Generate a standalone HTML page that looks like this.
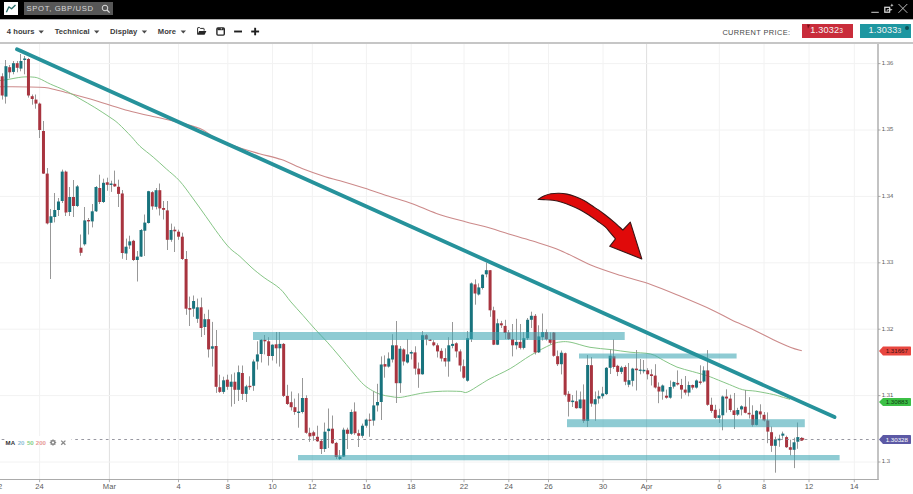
<!DOCTYPE html>
<html><head><meta charset="utf-8">
<style>
html,body{margin:0;padding:0;}
body{width:913px;height:494px;overflow:hidden;background:#fff;position:relative;font-family:"Liberation Sans",Arial,sans-serif;}
#hdr{position:absolute;left:0;top:0;width:913px;height:19px;background:#000;border-bottom:1px solid #b2b2b2;}
#logo{position:absolute;left:4px;top:2px;width:14px;height:13px;background:#fff;}
#search{position:absolute;left:24px;top:2px;width:88.5px;height:13px;background:#575757;color:#d8d8d8;font-size:7.7px;line-height:13px;letter-spacing:0.62px;}
#search span{position:absolute;left:2.6px;top:0.2px;}
#tb{position:absolute;left:0;top:20px;width:913px;height:22px;background:#fff;border-bottom:2px solid #c6c6c6;}
.mi{position:absolute;top:7.3px;font-size:7.6px;font-weight:bold;color:#3c3c3c;letter-spacing:0.05px;}
.car{position:absolute;top:11.4px;width:0;height:0;border-left:2.8px solid transparent;border-right:2.8px solid transparent;border-top:3px solid #444;}
#cp{position:absolute;left:722.4px;top:7.6px;font-size:7.4px;color:#474747;letter-spacing:0.38px;}
.pbox{position:absolute;top:4px;height:14px;width:51px;color:#f4f4f4;font-size:9.2px;line-height:14px;letter-spacing:0.15px;}
.pbox span{position:absolute;top:-1px;}
.pbox small{font-size:6.6px;}
svg{position:absolute;left:0;top:0;}
.pl{font-size:5.9px;fill:#555;text-rendering:geometricPrecision;font-family:"Liberation Sans",Arial,sans-serif;}
.dl{font-size:7.6px;fill:#5a5a5a;font-family:"Liberation Sans",Arial,sans-serif;}
.lg{font-size:6.1px;font-weight:bold;font-family:"Liberation Sans",Arial,sans-serif;}
.tg{font-size:6.2px;font-family:"Liberation Sans",Arial,sans-serif;}
#leg{position:absolute;left:3px;top:437.5px;height:9px;width:66px;padding:0 0 0 2.6px;background:#fff;font-size:6.1px;line-height:9px;color:#333;white-space:nowrap;}
</style></head><body>
<svg width="913" height="494" viewBox="0 0 913 494">
<line x1="39.6" y1="44" x2="39.6" y2="479" stroke="#f2f2f2" stroke-width="1"/>
<line x1="109.4" y1="44" x2="109.4" y2="479" stroke="#dfdfdf" stroke-width="1"/>
<line x1="178.5" y1="44" x2="178.5" y2="479" stroke="#f2f2f2" stroke-width="1"/>
<line x1="227.8" y1="44" x2="227.8" y2="479" stroke="#f2f2f2" stroke-width="1"/>
<line x1="272.5" y1="44" x2="272.5" y2="479" stroke="#f2f2f2" stroke-width="1"/>
<line x1="312.3" y1="44" x2="312.3" y2="479" stroke="#f2f2f2" stroke-width="1"/>
<line x1="366.4" y1="44" x2="366.4" y2="479" stroke="#f2f2f2" stroke-width="1"/>
<line x1="411.2" y1="44" x2="411.2" y2="479" stroke="#f2f2f2" stroke-width="1"/>
<line x1="464" y1="44" x2="464" y2="479" stroke="#f2f2f2" stroke-width="1"/>
<line x1="508.8" y1="44" x2="508.8" y2="479" stroke="#f2f2f2" stroke-width="1"/>
<line x1="548.5" y1="44" x2="548.5" y2="479" stroke="#f2f2f2" stroke-width="1"/>
<line x1="603" y1="44" x2="603" y2="479" stroke="#f2f2f2" stroke-width="1"/>
<line x1="646.6" y1="44" x2="646.6" y2="479" stroke="#dfdfdf" stroke-width="1"/>
<line x1="719.3" y1="44" x2="719.3" y2="479" stroke="#f2f2f2" stroke-width="1"/>
<line x1="764" y1="44" x2="764" y2="479" stroke="#f2f2f2" stroke-width="1"/>
<line x1="809" y1="44" x2="809" y2="479" stroke="#f2f2f2" stroke-width="1"/>
<line x1="854.3" y1="44" x2="854.3" y2="479" stroke="#f2f2f2" stroke-width="1"/>
<line x1="0" y1="63.6" x2="877" y2="63.6" stroke="#f2f2f2" stroke-width="1"/>
<line x1="0" y1="130" x2="877" y2="130" stroke="#f2f2f2" stroke-width="1"/>
<line x1="0" y1="196.4" x2="877" y2="196.4" stroke="#f2f2f2" stroke-width="1"/>
<line x1="0" y1="262.8" x2="877" y2="262.8" stroke="#f2f2f2" stroke-width="1"/>
<line x1="0" y1="329.2" x2="877" y2="329.2" stroke="#f2f2f2" stroke-width="1"/>
<line x1="0" y1="395.6" x2="877" y2="395.6" stroke="#f2f2f2" stroke-width="1"/>
<line x1="0" y1="462" x2="877" y2="462" stroke="#f2f2f2" stroke-width="1"/>
<path d="M0,86.7 C1.1,86.7 0.03,86.62 6.6,86.7 C13.17,86.78 32.1,86.9 39.4,87.2 C46.7,87.5 46.02,87.63 50.4,88.5 C54.78,89.37 59.5,90.77 65.7,92.4 C71.9,94.03 80.3,96.22 87.6,98.3 C94.9,100.38 102.2,102.7 109.5,104.9 C116.8,107.1 124.65,109.68 131.4,111.5 C138.15,113.32 143.25,114.25 150,115.8 C156.75,117.35 163.57,118.68 171.9,120.8 C180.23,122.92 192.7,125.58 200,128.5 C207.3,131.42 209.43,135.2 215.7,138.3 C221.97,141.4 230.3,144.53 237.6,147.1 C244.9,149.67 252.2,151.62 259.5,153.7 C266.8,155.78 274.1,157.05 281.4,159.6 C288.7,162.15 296,166.15 303.3,169 C310.6,171.85 319.08,174.73 325.2,176.7 C331.32,178.67 333.52,178.9 340,180.8 C346.48,182.7 356.07,185.57 364.1,188.1 C372.13,190.63 380.17,193.4 388.2,196 C396.23,198.6 404.27,200.8 412.3,203.7 C420.33,206.6 427.57,210.38 436.4,213.4 C445.23,216.42 457.27,219.6 465.3,221.8 C473.33,224 477.37,224.58 484.6,226.6 C491.83,228.62 500.67,231.48 508.7,233.9 C516.73,236.32 524.2,238.35 532.8,241.1 C541.4,243.85 550.65,246.42 560.3,250.4 C569.95,254.38 580.58,260.8 590.7,265 C600.82,269.2 610.88,272.32 621,275.6 C631.12,278.88 641.28,281.17 651.4,284.7 C661.52,288.23 671.58,292.6 681.7,296.8 C691.82,301 703.77,306.03 712.1,309.9 C720.43,313.77 725.15,316.85 731.7,320 C738.25,323.15 744.47,325.52 751.4,328.8 C758.33,332.08 766.72,336.6 773.3,339.7 C779.88,342.8 786.15,345.57 790.9,347.4 C795.65,349.23 799.98,350.15 801.8,350.7" fill="none" stroke="#cc8a8a" stroke-width="1.05"/>
<path d="M0,80.5 C1.1,80.37 2.95,80.27 6.6,79.7 C10.25,79.13 17.52,77.53 21.9,77.1 C26.28,76.67 29.98,76.85 32.9,77.1 C35.82,77.35 36.48,77.43 39.4,78.6 C42.32,79.77 46.02,82.08 50.4,84.1 C54.78,86.12 60.6,88.15 65.7,90.7 C70.8,93.25 76.25,96.67 81,99.4 C85.75,102.13 89.45,104.17 94.2,107.1 C98.95,110.03 105.48,114.27 109.5,117 C113.52,119.73 114.65,120.22 118.3,123.5 C121.95,126.78 127.78,132.9 131.4,136.7 C135.02,140.5 136.37,142.9 140,146.3 C143.63,149.7 148.82,153.33 153.2,157.1 C157.58,160.87 161.92,164.95 166.3,168.9 C170.68,172.85 175.12,175.97 179.5,180.8 C183.88,185.63 188.22,191.98 192.6,197.9 C196.98,203.82 201.42,210.17 205.8,216.3 C210.18,222.43 214.95,229.43 218.9,234.7 C222.85,239.97 225.98,244.27 229.5,247.9 C233.02,251.53 236.25,253.17 240,256.5 C243.75,259.83 247.98,264.38 252,267.9 C256.02,271.42 259.45,274.15 264.1,277.6 C268.75,281.05 275.43,284.55 279.9,288.6 C284.37,292.65 287.05,297.43 290.9,301.9 C294.75,306.37 298.97,310.85 303,315.4 C307.03,319.95 311.05,324.73 315.1,329.2 C319.15,333.67 323.57,338.07 327.3,342.2 C331.03,346.33 334.33,350.28 337.5,354 C340.67,357.72 343.38,361 346.3,364.5 C349.22,368 352.08,371.63 355,375 C357.92,378.37 360.87,382.07 363.8,384.7 C366.73,387.33 369.68,389.13 372.6,390.8 C375.52,392.47 378.38,393.77 381.3,394.7 C384.22,395.63 387.17,395.93 390.1,396.4 C393.03,396.87 395.98,397.55 398.9,397.5 C401.82,397.45 403.22,396.92 407.6,396.1 C411.98,395.28 419.35,393.42 425.2,392.6 C431.05,391.78 436.87,391.4 442.7,391.2 C448.53,391 456.12,391.23 460.2,391.4 C464.28,391.57 463.9,393.32 467.2,392.2 C470.5,391.08 476.2,386.95 480,384.7 C483.8,382.45 484.97,381.38 490,378.7 C495.03,376.02 503.45,372.48 510.2,368.6 C516.95,364.72 523.75,359.38 530.5,355.4 C537.25,351.42 545.63,346.95 550.7,344.7 C555.77,342.45 557.52,342.3 560.9,341.9 C564.28,341.5 566.15,341.4 571,342.3 C575.85,343.2 583.33,346.08 590,347.3 C596.67,348.52 604.33,348.78 611,349.6 C617.67,350.42 623.38,351.47 630,352.2 C636.62,352.93 645.07,352.62 650.7,354 C656.33,355.38 659.42,358.32 663.8,360.5 C668.18,362.68 672.25,365.27 677,367.1 C681.75,368.93 687.2,370.03 692.3,371.5 C697.4,372.97 703.22,374.45 707.6,375.9 C711.98,377.35 714.95,378.75 718.6,380.2 C722.25,381.65 725.48,383.02 729.5,384.6 C733.52,386.18 738.32,388.6 742.7,389.7 C747.08,390.8 750.7,390.4 755.8,391.2 C760.9,392 769.1,393.58 773.3,394.5 C777.5,395.42 778.22,395.88 781,396.7 C783.78,397.52 788.5,398.95 790,399.4" fill="none" stroke="#7fc27f" stroke-width="0.95"/>
<line x1="2.5" y1="73.3" x2="2.5" y2="99.6" stroke="#8c8c8c" stroke-width="0.9"/>
<rect x="0.69" y="76.3" width="3.0" height="19.2" fill="#a8343f"/>
<line x1="5.5" y1="60" x2="5.5" y2="103.6" stroke="#8c8c8c" stroke-width="0.9"/>
<rect x="4.44" y="66.2" width="3.0" height="30.4" fill="#18737d"/>
<line x1="9.5" y1="65" x2="9.5" y2="78.3" stroke="#8c8c8c" stroke-width="0.9"/>
<rect x="8.19" y="67.2" width="3.0" height="5.1" fill="#a8343f"/>
<line x1="13.5" y1="61" x2="13.5" y2="74.3" stroke="#8c8c8c" stroke-width="0.9"/>
<rect x="11.95" y="63.2" width="3.0" height="8.7" fill="#18737d"/>
<line x1="17.5" y1="61" x2="17.5" y2="72.3" stroke="#8c8c8c" stroke-width="0.9"/>
<rect x="15.7" y="63.2" width="3.0" height="4.6" fill="#a8343f"/>
<line x1="20.5" y1="54" x2="20.5" y2="71.3" stroke="#8c8c8c" stroke-width="0.9"/>
<rect x="19.45" y="61" width="3.0" height="7.6" fill="#18737d"/>
<line x1="24.5" y1="56" x2="24.5" y2="74.3" stroke="#8c8c8c" stroke-width="0.9"/>
<rect x="23.2" y="58.5" width="3.0" height="1.5" fill="#18737d"/>
<line x1="28.5" y1="58" x2="28.5" y2="97.6" stroke="#8c8c8c" stroke-width="0.9"/>
<rect x="26.96" y="59" width="3.0" height="36.5" fill="#a8343f"/>
<line x1="32.5" y1="94.5" x2="32.5" y2="104.7" stroke="#8c8c8c" stroke-width="0.9"/>
<rect x="30.71" y="96.2" width="3.0" height="2.8" fill="#a8343f"/>
<line x1="35.5" y1="94.5" x2="35.5" y2="108.7" stroke="#8c8c8c" stroke-width="0.9"/>
<rect x="34.46" y="99.6" width="3.0" height="4" fill="#a8343f"/>
<line x1="39.5" y1="102.6" x2="39.5" y2="138" stroke="#8c8c8c" stroke-width="0.9"/>
<rect x="38.22" y="103.6" width="3.0" height="26.4" fill="#a8343f"/>
<line x1="43.5" y1="121" x2="43.5" y2="174" stroke="#8c8c8c" stroke-width="0.9"/>
<rect x="41.97" y="131" width="3.0" height="42.6" fill="#a8343f"/>
<line x1="47.5" y1="168" x2="47.5" y2="224.4" stroke="#8c8c8c" stroke-width="0.9"/>
<rect x="45.72" y="173.6" width="3.0" height="49.8" fill="#a8343f"/>
<line x1="50.5" y1="209" x2="50.5" y2="279" stroke="#8c8c8c" stroke-width="0.9"/>
<rect x="49.48" y="216.3" width="3.0" height="6.5" fill="#18737d"/>
<line x1="54.5" y1="193" x2="54.5" y2="222.4" stroke="#8c8c8c" stroke-width="0.9"/>
<rect x="53.23" y="210" width="3.0" height="7" fill="#18737d"/>
<line x1="58.5" y1="198" x2="58.5" y2="216" stroke="#8c8c8c" stroke-width="0.9"/>
<rect x="56.98" y="201.5" width="3.0" height="8.5" fill="#18737d"/>
<line x1="62.5" y1="169.6" x2="62.5" y2="203" stroke="#8c8c8c" stroke-width="0.9"/>
<rect x="60.73" y="171.6" width="3.0" height="29.4" fill="#18737d"/>
<line x1="65.5" y1="170.6" x2="65.5" y2="216" stroke="#8c8c8c" stroke-width="0.9"/>
<rect x="64.49" y="171.6" width="3.0" height="40.9" fill="#a8343f"/>
<line x1="69.5" y1="187" x2="69.5" y2="216" stroke="#8c8c8c" stroke-width="0.9"/>
<rect x="68.24" y="197" width="3.0" height="15" fill="#18737d"/>
<line x1="73.5" y1="180" x2="73.5" y2="217" stroke="#8c8c8c" stroke-width="0.9"/>
<rect x="71.99" y="197" width="3.0" height="9" fill="#a8343f"/>
<line x1="77.5" y1="185" x2="77.5" y2="207" stroke="#8c8c8c" stroke-width="0.9"/>
<rect x="75.75" y="186.4" width="3.0" height="19.6" fill="#18737d"/>
<line x1="80.5" y1="234.5" x2="80.5" y2="255.8" stroke="#8c8c8c" stroke-width="0.9"/>
<rect x="79.5" y="247.7" width="3.0" height="5.1" fill="#a8343f"/>
<line x1="84.5" y1="207" x2="84.5" y2="245.7" stroke="#8c8c8c" stroke-width="0.9"/>
<rect x="83.25" y="220.4" width="3.0" height="23.9" fill="#18737d"/>
<line x1="88.5" y1="218" x2="88.5" y2="234.5" stroke="#8c8c8c" stroke-width="0.9"/>
<rect x="87" y="220" width="3.0" height="1.4" fill="#a8343f"/>
<line x1="92.5" y1="204" x2="92.5" y2="227.4" stroke="#8c8c8c" stroke-width="0.9"/>
<rect x="90.76" y="211.3" width="3.0" height="10.1" fill="#18737d"/>
<line x1="96.5" y1="186" x2="96.5" y2="212" stroke="#8c8c8c" stroke-width="0.9"/>
<rect x="94.51" y="187" width="3.0" height="24.3" fill="#18737d"/>
<line x1="99.5" y1="174.7" x2="99.5" y2="204" stroke="#8c8c8c" stroke-width="0.9"/>
<rect x="98.26" y="188" width="3.0" height="14" fill="#a8343f"/>
<line x1="103.5" y1="178.7" x2="103.5" y2="203" stroke="#8c8c8c" stroke-width="0.9"/>
<rect x="102.02" y="182.8" width="3.0" height="19.2" fill="#18737d"/>
<line x1="107.5" y1="177.7" x2="107.5" y2="190.8" stroke="#8c8c8c" stroke-width="0.9"/>
<rect x="105.77" y="182.3" width="3.0" height="2.5" fill="#a8343f"/>
<line x1="111.5" y1="180.7" x2="111.5" y2="191.9" stroke="#8c8c8c" stroke-width="0.9"/>
<rect x="109.52" y="183.5" width="3.0" height="1.5" fill="#18737d"/>
<line x1="114.5" y1="170.6" x2="114.5" y2="186.8" stroke="#8c8c8c" stroke-width="0.9"/>
<rect x="113.28" y="183.8" width="3.0" height="2.6" fill="#a8343f"/>
<line x1="118.5" y1="179.7" x2="118.5" y2="207" stroke="#8c8c8c" stroke-width="0.9"/>
<rect x="117.03" y="186.8" width="3.0" height="7.1" fill="#a8343f"/>
<line x1="122.5" y1="190" x2="122.5" y2="258.8" stroke="#8c8c8c" stroke-width="0.9"/>
<rect x="120.78" y="193.5" width="3.0" height="59.5" fill="#a8343f"/>
<line x1="126.5" y1="238.6" x2="126.5" y2="260" stroke="#8c8c8c" stroke-width="0.9"/>
<rect x="124.53" y="246.7" width="3.0" height="6.8" fill="#18737d"/>
<line x1="129.5" y1="235.7" x2="129.5" y2="248.9" stroke="#8c8c8c" stroke-width="0.9"/>
<rect x="128.29" y="241.4" width="3.0" height="4" fill="#18737d"/>
<line x1="133.5" y1="239.8" x2="133.5" y2="261" stroke="#8c8c8c" stroke-width="0.9"/>
<rect x="132.04" y="240.8" width="3.0" height="19.2" fill="#a8343f"/>
<line x1="137.5" y1="251" x2="137.5" y2="281.5" stroke="#8c8c8c" stroke-width="0.9"/>
<rect x="135.79" y="256.6" width="3.0" height="3.4" fill="#18737d"/>
<line x1="141.5" y1="229" x2="141.5" y2="257" stroke="#8c8c8c" stroke-width="0.9"/>
<rect x="139.55" y="230" width="3.0" height="26.6" fill="#18737d"/>
<line x1="144.5" y1="214.5" x2="144.5" y2="256" stroke="#8c8c8c" stroke-width="0.9"/>
<rect x="143.3" y="222.6" width="3.0" height="8.1" fill="#18737d"/>
<line x1="148.5" y1="190.8" x2="148.5" y2="223.6" stroke="#8c8c8c" stroke-width="0.9"/>
<rect x="147.05" y="191.2" width="3.0" height="31.8" fill="#18737d"/>
<line x1="152.5" y1="191.2" x2="152.5" y2="209.8" stroke="#8c8c8c" stroke-width="0.9"/>
<rect x="150.81" y="192.2" width="3.0" height="14.2" fill="#a8343f"/>
<line x1="156.5" y1="188" x2="156.5" y2="209.4" stroke="#8c8c8c" stroke-width="0.9"/>
<rect x="154.56" y="190.2" width="3.0" height="16.6" fill="#18737d"/>
<line x1="159.5" y1="183.5" x2="159.5" y2="215.5" stroke="#8c8c8c" stroke-width="0.9"/>
<rect x="158.31" y="190.2" width="3.0" height="18.2" fill="#a8343f"/>
<line x1="163.5" y1="201" x2="163.5" y2="219.5" stroke="#8c8c8c" stroke-width="0.9"/>
<rect x="162.07" y="208" width="3.0" height="1.8" fill="#a8343f"/>
<line x1="167.5" y1="201" x2="167.5" y2="250" stroke="#8c8c8c" stroke-width="0.9"/>
<rect x="165.82" y="210.4" width="3.0" height="29.4" fill="#a8343f"/>
<line x1="171.5" y1="223.6" x2="171.5" y2="241.8" stroke="#8c8c8c" stroke-width="0.9"/>
<rect x="169.57" y="230" width="3.0" height="9.8" fill="#18737d"/>
<line x1="174.5" y1="226.6" x2="174.5" y2="252" stroke="#8c8c8c" stroke-width="0.9"/>
<rect x="173.32" y="229.7" width="3.0" height="1.6" fill="#a8343f"/>
<line x1="178.5" y1="229.7" x2="178.5" y2="239.8" stroke="#8c8c8c" stroke-width="0.9"/>
<rect x="177.08" y="231.7" width="3.0" height="5" fill="#a8343f"/>
<line x1="182.5" y1="232.7" x2="182.5" y2="260" stroke="#8c8c8c" stroke-width="0.9"/>
<rect x="180.83" y="236.7" width="3.0" height="22.3" fill="#a8343f"/>
<line x1="186.5" y1="251" x2="186.5" y2="314.8" stroke="#8c8c8c" stroke-width="0.9"/>
<rect x="184.58" y="259" width="3.0" height="49.7" fill="#a8343f"/>
<line x1="189.5" y1="296.6" x2="189.5" y2="326" stroke="#8c8c8c" stroke-width="0.9"/>
<rect x="188.34" y="308" width="3.0" height="1.7" fill="#a8343f"/>
<line x1="193.5" y1="295.5" x2="193.5" y2="316.8" stroke="#8c8c8c" stroke-width="0.9"/>
<rect x="192.09" y="301" width="3.0" height="7.7" fill="#18737d"/>
<line x1="197.5" y1="298.6" x2="197.5" y2="322.9" stroke="#8c8c8c" stroke-width="0.9"/>
<rect x="195.84" y="307.3" width="3.0" height="11.5" fill="#18737d"/>
<line x1="201.5" y1="297.6" x2="201.5" y2="337" stroke="#8c8c8c" stroke-width="0.9"/>
<rect x="199.59" y="307.3" width="3.0" height="20.7" fill="#a8343f"/>
<line x1="204.5" y1="313.8" x2="204.5" y2="335" stroke="#8c8c8c" stroke-width="0.9"/>
<rect x="203.35" y="319.2" width="3.0" height="7.8" fill="#18737d"/>
<line x1="208.5" y1="309.7" x2="208.5" y2="357.5" stroke="#8c8c8c" stroke-width="0.9"/>
<rect x="207.1" y="319.2" width="3.0" height="30.2" fill="#a8343f"/>
<line x1="212.5" y1="321.9" x2="212.5" y2="366.6" stroke="#8c8c8c" stroke-width="0.9"/>
<rect x="210.85" y="346.3" width="3.0" height="2.4" fill="#18737d"/>
<line x1="216.5" y1="330" x2="216.5" y2="392.9" stroke="#8c8c8c" stroke-width="0.9"/>
<rect x="214.61" y="346" width="3.0" height="40.8" fill="#a8343f"/>
<line x1="219.5" y1="374.7" x2="219.5" y2="392.9" stroke="#8c8c8c" stroke-width="0.9"/>
<rect x="218.36" y="387.2" width="3.0" height="4.7" fill="#a8343f"/>
<line x1="223.5" y1="376.7" x2="223.5" y2="393.9" stroke="#8c8c8c" stroke-width="0.9"/>
<rect x="222.11" y="380.3" width="3.0" height="11.6" fill="#18737d"/>
<line x1="227.5" y1="374.7" x2="227.5" y2="389.8" stroke="#8c8c8c" stroke-width="0.9"/>
<rect x="225.87" y="379.7" width="3.0" height="7.1" fill="#a8343f"/>
<line x1="231.5" y1="374.3" x2="231.5" y2="406.6" stroke="#8c8c8c" stroke-width="0.9"/>
<rect x="229.62" y="381.7" width="3.0" height="5.1" fill="#18737d"/>
<line x1="234.5" y1="372.6" x2="234.5" y2="404" stroke="#8c8c8c" stroke-width="0.9"/>
<rect x="233.37" y="381.7" width="3.0" height="8.1" fill="#a8343f"/>
<line x1="238.5" y1="365.5" x2="238.5" y2="401" stroke="#8c8c8c" stroke-width="0.9"/>
<rect x="237.13" y="372.2" width="3.0" height="17.6" fill="#18737d"/>
<line x1="242.5" y1="365.5" x2="242.5" y2="400" stroke="#8c8c8c" stroke-width="0.9"/>
<rect x="240.88" y="373" width="3.0" height="20.9" fill="#a8343f"/>
<line x1="246.5" y1="384.8" x2="246.5" y2="402" stroke="#8c8c8c" stroke-width="0.9"/>
<rect x="244.63" y="386.4" width="3.0" height="7.5" fill="#18737d"/>
<line x1="249.5" y1="376.3" x2="249.5" y2="389.8" stroke="#8c8c8c" stroke-width="0.9"/>
<rect x="248.38" y="385.8" width="3.0" height="1.4" fill="#a8343f"/>
<line x1="253.5" y1="359.5" x2="253.5" y2="390.8" stroke="#8c8c8c" stroke-width="0.9"/>
<rect x="252.14" y="361.5" width="3.0" height="24.3" fill="#18737d"/>
<line x1="257.5" y1="341.3" x2="257.5" y2="369.6" stroke="#8c8c8c" stroke-width="0.9"/>
<rect x="255.89" y="354.4" width="3.0" height="7.1" fill="#18737d"/>
<line x1="261.5" y1="339.2" x2="261.5" y2="362.5" stroke="#8c8c8c" stroke-width="0.9"/>
<rect x="259.64" y="339.8" width="3.0" height="14.2" fill="#18737d"/>
<line x1="264.5" y1="335" x2="264.5" y2="354.4" stroke="#8c8c8c" stroke-width="0.9"/>
<rect x="263.4" y="339.8" width="3.0" height="1.5" fill="#a8343f"/>
<line x1="268.5" y1="337.2" x2="268.5" y2="365.5" stroke="#8c8c8c" stroke-width="0.9"/>
<rect x="267.15" y="341.3" width="3.0" height="14.7" fill="#a8343f"/>
<line x1="272.5" y1="344.3" x2="272.5" y2="360.5" stroke="#8c8c8c" stroke-width="0.9"/>
<rect x="270.9" y="344.7" width="3.0" height="11.3" fill="#18737d"/>
<line x1="276.5" y1="332" x2="276.5" y2="363.5" stroke="#8c8c8c" stroke-width="0.9"/>
<rect x="274.65" y="344.3" width="3.0" height="4" fill="#a8343f"/>
<line x1="279.5" y1="332" x2="279.5" y2="366.6" stroke="#8c8c8c" stroke-width="0.9"/>
<rect x="278.41" y="343.9" width="3.0" height="4.4" fill="#18737d"/>
<line x1="283.5" y1="343" x2="283.5" y2="397" stroke="#8c8c8c" stroke-width="0.9"/>
<rect x="282.16" y="343.9" width="3.0" height="52" fill="#a8343f"/>
<line x1="287.5" y1="384.8" x2="287.5" y2="405" stroke="#8c8c8c" stroke-width="0.9"/>
<rect x="285.91" y="395.9" width="3.0" height="8.1" fill="#a8343f"/>
<line x1="291.5" y1="391.5" x2="291.5" y2="410.5" stroke="#8c8c8c" stroke-width="0.9"/>
<rect x="289.67" y="402.2" width="3.0" height="5" fill="#a8343f"/>
<line x1="294.5" y1="398.6" x2="294.5" y2="414.8" stroke="#8c8c8c" stroke-width="0.9"/>
<rect x="293.42" y="407.2" width="3.0" height="4.8" fill="#a8343f"/>
<line x1="298.5" y1="393.3" x2="298.5" y2="427.7" stroke="#8c8c8c" stroke-width="0.9"/>
<rect x="297.17" y="411.5" width="3.0" height="1.5" fill="#18737d"/>
<line x1="302.5" y1="378" x2="302.5" y2="413.5" stroke="#8c8c8c" stroke-width="0.9"/>
<rect x="300.93" y="398" width="3.0" height="14" fill="#18737d"/>
<line x1="306.5" y1="395.3" x2="306.5" y2="433.8" stroke="#8c8c8c" stroke-width="0.9"/>
<rect x="304.68" y="398" width="3.0" height="34.8" fill="#a8343f"/>
<line x1="309.5" y1="427.7" x2="309.5" y2="441.9" stroke="#8c8c8c" stroke-width="0.9"/>
<rect x="308.43" y="432.8" width="3.0" height="3.6" fill="#a8343f"/>
<line x1="313.5" y1="430.7" x2="313.5" y2="440.8" stroke="#8c8c8c" stroke-width="0.9"/>
<rect x="312.19" y="432.3" width="3.0" height="3.5" fill="#a8343f"/>
<line x1="317.5" y1="425.7" x2="317.5" y2="441.9" stroke="#8c8c8c" stroke-width="0.9"/>
<rect x="315.94" y="436.8" width="3.0" height="4.5" fill="#a8343f"/>
<line x1="321.5" y1="439.8" x2="321.5" y2="454" stroke="#8c8c8c" stroke-width="0.9"/>
<rect x="319.69" y="440.9" width="3.0" height="8.1" fill="#a8343f"/>
<line x1="324.5" y1="422.6" x2="324.5" y2="452" stroke="#8c8c8c" stroke-width="0.9"/>
<rect x="323.44" y="431.7" width="3.0" height="17.3" fill="#18737d"/>
<line x1="328.5" y1="408.5" x2="328.5" y2="448" stroke="#8c8c8c" stroke-width="0.9"/>
<rect x="327.2" y="428.7" width="3.0" height="2.4" fill="#18737d"/>
<line x1="332.5" y1="415.5" x2="332.5" y2="443.9" stroke="#8c8c8c" stroke-width="0.9"/>
<rect x="330.95" y="428.7" width="3.0" height="14.6" fill="#a8343f"/>
<line x1="336.5" y1="441.9" x2="336.5" y2="459" stroke="#8c8c8c" stroke-width="0.9"/>
<rect x="334.7" y="442.9" width="3.0" height="14.1" fill="#a8343f"/>
<line x1="339.5" y1="450" x2="339.5" y2="460" stroke="#8c8c8c" stroke-width="0.9"/>
<rect x="338.46" y="456.6" width="3.0" height="2.4" fill="#18737d"/>
<line x1="343.5" y1="427.7" x2="343.5" y2="457" stroke="#8c8c8c" stroke-width="0.9"/>
<rect x="342.21" y="429.7" width="3.0" height="26.9" fill="#18737d"/>
<line x1="347.5" y1="427.7" x2="347.5" y2="449" stroke="#8c8c8c" stroke-width="0.9"/>
<rect x="345.96" y="429.7" width="3.0" height="4.1" fill="#a8343f"/>
<line x1="351.5" y1="409.5" x2="351.5" y2="434.8" stroke="#8c8c8c" stroke-width="0.9"/>
<rect x="349.71" y="412" width="3.0" height="21.8" fill="#18737d"/>
<line x1="354.5" y1="402.4" x2="354.5" y2="434.8" stroke="#8c8c8c" stroke-width="0.9"/>
<rect x="353.47" y="411.5" width="3.0" height="21.7" fill="#a8343f"/>
<line x1="358.5" y1="429.7" x2="358.5" y2="447" stroke="#8c8c8c" stroke-width="0.9"/>
<rect x="357.22" y="433.2" width="3.0" height="2.6" fill="#a8343f"/>
<line x1="362.5" y1="423.6" x2="362.5" y2="437.8" stroke="#8c8c8c" stroke-width="0.9"/>
<rect x="360.97" y="425.7" width="3.0" height="10.1" fill="#18737d"/>
<line x1="366.5" y1="418.6" x2="366.5" y2="427.7" stroke="#8c8c8c" stroke-width="0.9"/>
<rect x="364.73" y="419.6" width="3.0" height="6.1" fill="#18737d"/>
<line x1="369.5" y1="413.5" x2="369.5" y2="436.8" stroke="#8c8c8c" stroke-width="0.9"/>
<rect x="368.48" y="419.6" width="3.0" height="1.2" fill="#a8343f"/>
<line x1="373.5" y1="391.3" x2="373.5" y2="425.7" stroke="#8c8c8c" stroke-width="0.9"/>
<rect x="372.23" y="405.4" width="3.0" height="15.2" fill="#18737d"/>
<line x1="377.5" y1="383.8" x2="377.5" y2="411.5" stroke="#8c8c8c" stroke-width="0.9"/>
<rect x="375.99" y="402" width="3.0" height="3.4" fill="#18737d"/>
<line x1="381.5" y1="356.4" x2="381.5" y2="420" stroke="#8c8c8c" stroke-width="0.9"/>
<rect x="379.74" y="364.5" width="3.0" height="37.5" fill="#18737d"/>
<line x1="384.5" y1="355.4" x2="384.5" y2="377.7" stroke="#8c8c8c" stroke-width="0.9"/>
<rect x="383.49" y="364.1" width="3.0" height="2.5" fill="#a8343f"/>
<line x1="388.5" y1="352.4" x2="388.5" y2="367.6" stroke="#8c8c8c" stroke-width="0.9"/>
<rect x="387.25" y="358.5" width="3.0" height="8.1" fill="#18737d"/>
<line x1="392.5" y1="334.2" x2="392.5" y2="362.5" stroke="#8c8c8c" stroke-width="0.9"/>
<rect x="391" y="345.3" width="3.0" height="14.2" fill="#18737d"/>
<line x1="396.5" y1="321" x2="396.5" y2="403" stroke="#8c8c8c" stroke-width="0.9"/>
<rect x="394.75" y="345.3" width="3.0" height="37.9" fill="#a8343f"/>
<line x1="400.5" y1="346" x2="400.5" y2="392.9" stroke="#8c8c8c" stroke-width="0.9"/>
<rect x="398.5" y="348.7" width="3.0" height="34.5" fill="#18737d"/>
<line x1="403.5" y1="348.3" x2="403.5" y2="365.5" stroke="#8c8c8c" stroke-width="0.9"/>
<rect x="402.26" y="349.4" width="3.0" height="12.1" fill="#a8343f"/>
<line x1="407.5" y1="339.2" x2="407.5" y2="363.5" stroke="#8c8c8c" stroke-width="0.9"/>
<rect x="406.01" y="354.4" width="3.0" height="8.1" fill="#18737d"/>
<line x1="411.5" y1="350.4" x2="411.5" y2="359.5" stroke="#8c8c8c" stroke-width="0.9"/>
<rect x="409.76" y="352" width="3.0" height="1.6" fill="#18737d"/>
<line x1="415.5" y1="346.3" x2="415.5" y2="374.7" stroke="#8c8c8c" stroke-width="0.9"/>
<rect x="413.52" y="352.4" width="3.0" height="16.2" fill="#a8343f"/>
<line x1="418.5" y1="362.5" x2="418.5" y2="387.8" stroke="#8c8c8c" stroke-width="0.9"/>
<rect x="417.27" y="368.6" width="3.0" height="5.7" fill="#a8343f"/>
<line x1="422.5" y1="331.1" x2="422.5" y2="374.7" stroke="#8c8c8c" stroke-width="0.9"/>
<rect x="421.02" y="335.2" width="3.0" height="39.1" fill="#18737d"/>
<line x1="426.5" y1="334.2" x2="426.5" y2="345.3" stroke="#8c8c8c" stroke-width="0.9"/>
<rect x="424.77" y="335.2" width="3.0" height="4" fill="#a8343f"/>
<line x1="430.5" y1="339" x2="430.5" y2="341" stroke="#8c8c8c" stroke-width="0.9"/>
<rect x="428.53" y="339.6" width="3.0" height="1.2" fill="#a8343f"/>
<line x1="433.5" y1="340.2" x2="433.5" y2="346.3" stroke="#8c8c8c" stroke-width="0.9"/>
<rect x="432.28" y="342.3" width="3.0" height="3" fill="#a8343f"/>
<line x1="437.5" y1="343.3" x2="437.5" y2="357.5" stroke="#8c8c8c" stroke-width="0.9"/>
<rect x="436.03" y="345.3" width="3.0" height="6.1" fill="#a8343f"/>
<line x1="441.5" y1="348.3" x2="441.5" y2="361.5" stroke="#8c8c8c" stroke-width="0.9"/>
<rect x="439.79" y="350.8" width="3.0" height="7.7" fill="#a8343f"/>
<line x1="445.5" y1="348.3" x2="445.5" y2="366.6" stroke="#8c8c8c" stroke-width="0.9"/>
<rect x="443.54" y="358" width="3.0" height="3.5" fill="#a8343f"/>
<line x1="448.5" y1="337.2" x2="448.5" y2="376.7" stroke="#8c8c8c" stroke-width="0.9"/>
<rect x="447.29" y="345.3" width="3.0" height="16.2" fill="#18737d"/>
<line x1="452.5" y1="322" x2="452.5" y2="348.3" stroke="#8c8c8c" stroke-width="0.9"/>
<rect x="451.05" y="343.9" width="3.0" height="2" fill="#18737d"/>
<line x1="456.5" y1="342.3" x2="456.5" y2="357.5" stroke="#8c8c8c" stroke-width="0.9"/>
<rect x="454.8" y="343.3" width="3.0" height="8.1" fill="#a8343f"/>
<line x1="460.5" y1="349.4" x2="460.5" y2="371.6" stroke="#8c8c8c" stroke-width="0.9"/>
<rect x="458.55" y="351.4" width="3.0" height="14.1" fill="#a8343f"/>
<line x1="463.5" y1="359.5" x2="463.5" y2="378.7" stroke="#8c8c8c" stroke-width="0.9"/>
<rect x="462.31" y="366.2" width="3.0" height="11.5" fill="#a8343f"/>
<line x1="467.5" y1="331" x2="467.5" y2="381.7" stroke="#8c8c8c" stroke-width="0.9"/>
<rect x="466.06" y="338.2" width="3.0" height="42.5" fill="#18737d"/>
<line x1="471.5" y1="282.4" x2="471.5" y2="342" stroke="#8c8c8c" stroke-width="0.9"/>
<rect x="469.81" y="283.4" width="3.0" height="55.6" fill="#18737d"/>
<line x1="475.5" y1="279.4" x2="475.5" y2="304.7" stroke="#8c8c8c" stroke-width="0.9"/>
<rect x="473.56" y="284.4" width="3.0" height="9.1" fill="#a8343f"/>
<line x1="478.5" y1="283.4" x2="478.5" y2="295.5" stroke="#8c8c8c" stroke-width="0.9"/>
<rect x="477.32" y="287.4" width="3.0" height="7.1" fill="#18737d"/>
<line x1="482.5" y1="274.3" x2="482.5" y2="289.5" stroke="#8c8c8c" stroke-width="0.9"/>
<rect x="481.07" y="274.7" width="3.0" height="13.3" fill="#18737d"/>
<line x1="486.5" y1="262.6" x2="486.5" y2="277.3" stroke="#8c8c8c" stroke-width="0.9"/>
<rect x="484.82" y="270.2" width="3.0" height="4.1" fill="#18737d"/>
<line x1="490.5" y1="270.2" x2="490.5" y2="316.8" stroke="#8c8c8c" stroke-width="0.9"/>
<rect x="488.58" y="270.2" width="3.0" height="40.1" fill="#a8343f"/>
<line x1="493.5" y1="306.7" x2="493.5" y2="345.1" stroke="#8c8c8c" stroke-width="0.9"/>
<rect x="492.33" y="310.3" width="3.0" height="34.4" fill="#a8343f"/>
<line x1="497.5" y1="318.8" x2="497.5" y2="345.1" stroke="#8c8c8c" stroke-width="0.9"/>
<rect x="496.08" y="323.3" width="3.0" height="21.4" fill="#18737d"/>
<line x1="501.5" y1="320.9" x2="501.5" y2="328" stroke="#8c8c8c" stroke-width="0.9"/>
<rect x="499.83" y="323.3" width="3.0" height="2" fill="#a8343f"/>
<line x1="505.5" y1="319.8" x2="505.5" y2="339" stroke="#8c8c8c" stroke-width="0.9"/>
<rect x="503.59" y="325.9" width="3.0" height="7.1" fill="#a8343f"/>
<line x1="508.5" y1="330" x2="508.5" y2="340" stroke="#8c8c8c" stroke-width="0.9"/>
<rect x="507.34" y="332.5" width="3.0" height="6.5" fill="#a8343f"/>
<line x1="512.5" y1="324" x2="512.5" y2="356.4" stroke="#8c8c8c" stroke-width="0.9"/>
<rect x="511.09" y="339.2" width="3.0" height="6.1" fill="#a8343f"/>
<line x1="516.5" y1="318.8" x2="516.5" y2="349.4" stroke="#8c8c8c" stroke-width="0.9"/>
<rect x="514.85" y="341.9" width="3.0" height="3.4" fill="#18737d"/>
<line x1="520.5" y1="324" x2="520.5" y2="349.4" stroke="#8c8c8c" stroke-width="0.9"/>
<rect x="518.6" y="341.9" width="3.0" height="6" fill="#a8343f"/>
<line x1="523.5" y1="332.1" x2="523.5" y2="349.4" stroke="#8c8c8c" stroke-width="0.9"/>
<rect x="522.35" y="338.2" width="3.0" height="9.7" fill="#18737d"/>
<line x1="527.5" y1="318" x2="527.5" y2="340" stroke="#8c8c8c" stroke-width="0.9"/>
<rect x="526.11" y="319.8" width="3.0" height="18.4" fill="#18737d"/>
<line x1="531.5" y1="311.7" x2="531.5" y2="328" stroke="#8c8c8c" stroke-width="0.9"/>
<rect x="529.86" y="315.8" width="3.0" height="4" fill="#18737d"/>
<line x1="535.5" y1="314" x2="535.5" y2="354.5" stroke="#8c8c8c" stroke-width="0.9"/>
<rect x="533.61" y="315.8" width="3.0" height="36.6" fill="#a8343f"/>
<line x1="538.5" y1="325.3" x2="538.5" y2="353" stroke="#8c8c8c" stroke-width="0.9"/>
<rect x="537.37" y="336.4" width="3.0" height="16" fill="#18737d"/>
<line x1="542.5" y1="313.5" x2="542.5" y2="340.5" stroke="#8c8c8c" stroke-width="0.9"/>
<rect x="541.12" y="332.1" width="3.0" height="5.1" fill="#18737d"/>
<line x1="546.5" y1="329.4" x2="546.5" y2="340.5" stroke="#8c8c8c" stroke-width="0.9"/>
<rect x="544.87" y="332.1" width="3.0" height="7.1" fill="#a8343f"/>
<line x1="550.5" y1="332.4" x2="550.5" y2="344.5" stroke="#8c8c8c" stroke-width="0.9"/>
<rect x="548.62" y="339.2" width="3.0" height="3.6" fill="#a8343f"/>
<line x1="553.5" y1="332" x2="553.5" y2="356.7" stroke="#8c8c8c" stroke-width="0.9"/>
<rect x="552.38" y="332.5" width="3.0" height="23.3" fill="#a8343f"/>
<line x1="557.5" y1="350.5" x2="557.5" y2="366" stroke="#8c8c8c" stroke-width="0.9"/>
<rect x="556.13" y="356.2" width="3.0" height="8" fill="#a8343f"/>
<line x1="561.5" y1="350.5" x2="561.5" y2="374.4" stroke="#8c8c8c" stroke-width="0.9"/>
<rect x="559.88" y="352.7" width="3.0" height="11.5" fill="#18737d"/>
<line x1="565.5" y1="352.6" x2="565.5" y2="396.4" stroke="#8c8c8c" stroke-width="0.9"/>
<rect x="563.64" y="353.2" width="3.0" height="41.6" fill="#a8343f"/>
<line x1="568.5" y1="391.2" x2="568.5" y2="416.5" stroke="#8c8c8c" stroke-width="0.9"/>
<rect x="567.39" y="393.8" width="3.0" height="8" fill="#a8343f"/>
<line x1="572.5" y1="395" x2="572.5" y2="407" stroke="#8c8c8c" stroke-width="0.9"/>
<rect x="571.14" y="400.6" width="3.0" height="1.5" fill="#18737d"/>
<line x1="576.5" y1="390.5" x2="576.5" y2="408.7" stroke="#8c8c8c" stroke-width="0.9"/>
<rect x="574.9" y="401.3" width="3.0" height="6.9" fill="#a8343f"/>
<line x1="580.5" y1="391.5" x2="580.5" y2="408.7" stroke="#8c8c8c" stroke-width="0.9"/>
<rect x="578.65" y="399.5" width="3.0" height="8.7" fill="#18737d"/>
<line x1="583.5" y1="384.4" x2="583.5" y2="422.9" stroke="#8c8c8c" stroke-width="0.9"/>
<rect x="582.4" y="399.5" width="3.0" height="21.4" fill="#a8343f"/>
<line x1="587.5" y1="355" x2="587.5" y2="427" stroke="#8c8c8c" stroke-width="0.9"/>
<rect x="586.15" y="365" width="3.0" height="55.9" fill="#18737d"/>
<line x1="591.5" y1="357" x2="591.5" y2="406.7" stroke="#8c8c8c" stroke-width="0.9"/>
<rect x="589.91" y="365.2" width="3.0" height="38.4" fill="#a8343f"/>
<line x1="595.5" y1="391.5" x2="595.5" y2="420.9" stroke="#8c8c8c" stroke-width="0.9"/>
<rect x="593.66" y="399.2" width="3.0" height="5.1" fill="#18737d"/>
<line x1="598.5" y1="390.5" x2="598.5" y2="403.6" stroke="#8c8c8c" stroke-width="0.9"/>
<rect x="597.41" y="396.2" width="3.0" height="2.4" fill="#18737d"/>
<line x1="602.5" y1="386.8" x2="602.5" y2="398.6" stroke="#8c8c8c" stroke-width="0.9"/>
<rect x="601.17" y="393.5" width="3.0" height="2.7" fill="#18737d"/>
<line x1="606.5" y1="367" x2="606.5" y2="395" stroke="#8c8c8c" stroke-width="0.9"/>
<rect x="604.92" y="367.8" width="3.0" height="26.3" fill="#18737d"/>
<line x1="610.5" y1="349.6" x2="610.5" y2="374" stroke="#8c8c8c" stroke-width="0.9"/>
<rect x="608.67" y="355.7" width="3.0" height="12.1" fill="#18737d"/>
<line x1="613.5" y1="339.5" x2="613.5" y2="368.8" stroke="#8c8c8c" stroke-width="0.9"/>
<rect x="612.43" y="356.3" width="3.0" height="10.7" fill="#a8343f"/>
<line x1="617.5" y1="364.8" x2="617.5" y2="376.1" stroke="#8c8c8c" stroke-width="0.9"/>
<rect x="616.18" y="365.8" width="3.0" height="6.1" fill="#a8343f"/>
<line x1="621.5" y1="365.9" x2="621.5" y2="374" stroke="#8c8c8c" stroke-width="0.9"/>
<rect x="619.93" y="367.5" width="3.0" height="4.4" fill="#18737d"/>
<line x1="625.5" y1="365.4" x2="625.5" y2="385.2" stroke="#8c8c8c" stroke-width="0.9"/>
<rect x="623.68" y="367" width="3.0" height="14.7" fill="#a8343f"/>
<line x1="628.5" y1="363" x2="628.5" y2="387.2" stroke="#8c8c8c" stroke-width="0.9"/>
<rect x="627.44" y="380.2" width="3.0" height="4.5" fill="#18737d"/>
<line x1="632.5" y1="367.8" x2="632.5" y2="386.4" stroke="#8c8c8c" stroke-width="0.9"/>
<rect x="631.19" y="368.6" width="3.0" height="12.2" fill="#18737d"/>
<line x1="636.5" y1="350" x2="636.5" y2="390.5" stroke="#8c8c8c" stroke-width="0.9"/>
<rect x="634.94" y="368.6" width="3.0" height="1.6" fill="#a8343f"/>
<line x1="640.5" y1="359" x2="640.5" y2="374.3" stroke="#8c8c8c" stroke-width="0.9"/>
<rect x="638.7" y="369.6" width="3.0" height="1.3" fill="#18737d"/>
<line x1="643.5" y1="360" x2="643.5" y2="373.4" stroke="#8c8c8c" stroke-width="0.9"/>
<rect x="642.45" y="369.8" width="3.0" height="1.5" fill="#18737d"/>
<line x1="647.5" y1="368.2" x2="647.5" y2="379.4" stroke="#8c8c8c" stroke-width="0.9"/>
<rect x="646.2" y="370.3" width="3.0" height="4" fill="#a8343f"/>
<line x1="651.5" y1="369.3" x2="651.5" y2="385.5" stroke="#8c8c8c" stroke-width="0.9"/>
<rect x="649.96" y="374.3" width="3.0" height="1.7" fill="#a8343f"/>
<line x1="655.5" y1="364.2" x2="655.5" y2="388.5" stroke="#8c8c8c" stroke-width="0.9"/>
<rect x="653.71" y="375.6" width="3.0" height="11.9" fill="#a8343f"/>
<line x1="658.5" y1="382.4" x2="658.5" y2="403.2" stroke="#8c8c8c" stroke-width="0.9"/>
<rect x="657.46" y="386.7" width="3.0" height="4.8" fill="#a8343f"/>
<line x1="662.5" y1="384.5" x2="662.5" y2="399.7" stroke="#8c8c8c" stroke-width="0.9"/>
<rect x="661.21" y="385.5" width="3.0" height="6.1" fill="#18737d"/>
<line x1="666.5" y1="389.6" x2="666.5" y2="398.7" stroke="#8c8c8c" stroke-width="0.9"/>
<rect x="664.97" y="395.7" width="3.0" height="2" fill="#a8343f"/>
<line x1="670.5" y1="380.5" x2="670.5" y2="398.7" stroke="#8c8c8c" stroke-width="0.9"/>
<rect x="668.72" y="387" width="3.0" height="10.7" fill="#18737d"/>
<line x1="673.5" y1="381.5" x2="673.5" y2="388.6" stroke="#8c8c8c" stroke-width="0.9"/>
<rect x="672.47" y="382.1" width="3.0" height="4.5" fill="#18737d"/>
<line x1="677.5" y1="370.4" x2="677.5" y2="385.5" stroke="#8c8c8c" stroke-width="0.9"/>
<rect x="676.23" y="382.9" width="3.0" height="1.6" fill="#a8343f"/>
<line x1="681.5" y1="378.9" x2="681.5" y2="398.7" stroke="#8c8c8c" stroke-width="0.9"/>
<rect x="679.98" y="385" width="3.0" height="4.6" fill="#a8343f"/>
<line x1="685.5" y1="376" x2="685.5" y2="394.7" stroke="#8c8c8c" stroke-width="0.9"/>
<rect x="683.73" y="389.6" width="3.0" height="3" fill="#a8343f"/>
<line x1="688.5" y1="381.5" x2="688.5" y2="396.3" stroke="#8c8c8c" stroke-width="0.9"/>
<rect x="687.49" y="385" width="3.0" height="7.6" fill="#18737d"/>
<line x1="692.5" y1="384.5" x2="692.5" y2="389.6" stroke="#8c8c8c" stroke-width="0.9"/>
<rect x="691.24" y="385" width="3.0" height="2.6" fill="#a8343f"/>
<line x1="696.5" y1="379.5" x2="696.5" y2="388.6" stroke="#8c8c8c" stroke-width="0.9"/>
<rect x="694.99" y="380.5" width="3.0" height="7.1" fill="#18737d"/>
<line x1="700.5" y1="365.3" x2="700.5" y2="384.5" stroke="#8c8c8c" stroke-width="0.9"/>
<rect x="698.74" y="381.5" width="3.0" height="1.4" fill="#a8343f"/>
<line x1="703.5" y1="366.3" x2="703.5" y2="382.5" stroke="#8c8c8c" stroke-width="0.9"/>
<rect x="702.5" y="370.4" width="3.0" height="11.1" fill="#18737d"/>
<line x1="707.5" y1="350.1" x2="707.5" y2="405.8" stroke="#8c8c8c" stroke-width="0.9"/>
<rect x="706.25" y="370.4" width="3.0" height="34.4" fill="#a8343f"/>
<line x1="711.5" y1="397.7" x2="711.5" y2="412.9" stroke="#8c8c8c" stroke-width="0.9"/>
<rect x="710" y="404.8" width="3.0" height="6.1" fill="#a8343f"/>
<line x1="715.5" y1="404.8" x2="715.5" y2="419" stroke="#8c8c8c" stroke-width="0.9"/>
<rect x="713.76" y="409.8" width="3.0" height="8.1" fill="#a8343f"/>
<line x1="719.5" y1="408.8" x2="719.5" y2="423" stroke="#8c8c8c" stroke-width="0.9"/>
<rect x="717.51" y="415.3" width="3.0" height="2.6" fill="#18737d"/>
<line x1="722.5" y1="395.5" x2="722.5" y2="430.3" stroke="#8c8c8c" stroke-width="0.9"/>
<rect x="721.26" y="396.5" width="3.0" height="18.8" fill="#18737d"/>
<line x1="726.5" y1="389.3" x2="726.5" y2="412.6" stroke="#8c8c8c" stroke-width="0.9"/>
<rect x="725.02" y="396.6" width="3.0" height="1.9" fill="#a8343f"/>
<line x1="730.5" y1="394.7" x2="730.5" y2="411.9" stroke="#8c8c8c" stroke-width="0.9"/>
<rect x="728.77" y="398.6" width="3.0" height="11.4" fill="#a8343f"/>
<line x1="734.5" y1="393" x2="734.5" y2="429" stroke="#8c8c8c" stroke-width="0.9"/>
<rect x="732.52" y="410.4" width="3.0" height="4.6" fill="#a8343f"/>
<line x1="737.5" y1="407.8" x2="737.5" y2="415.9" stroke="#8c8c8c" stroke-width="0.9"/>
<rect x="736.27" y="410" width="3.0" height="4.6" fill="#18737d"/>
<line x1="741.5" y1="405.3" x2="741.5" y2="415.4" stroke="#8c8c8c" stroke-width="0.9"/>
<rect x="740.03" y="406.3" width="3.0" height="3.1" fill="#18737d"/>
<line x1="745.5" y1="390" x2="745.5" y2="413.4" stroke="#8c8c8c" stroke-width="0.9"/>
<rect x="743.78" y="406.7" width="3.0" height="6.1" fill="#a8343f"/>
<line x1="749.5" y1="397.2" x2="749.5" y2="418.5" stroke="#8c8c8c" stroke-width="0.9"/>
<rect x="747.53" y="412.8" width="3.0" height="1.6" fill="#a8343f"/>
<line x1="752.5" y1="405.3" x2="752.5" y2="426.6" stroke="#8c8c8c" stroke-width="0.9"/>
<rect x="751.29" y="414.8" width="3.0" height="10.1" fill="#a8343f"/>
<line x1="756.5" y1="410" x2="756.5" y2="425.5" stroke="#8c8c8c" stroke-width="0.9"/>
<rect x="755.04" y="410.8" width="3.0" height="14.1" fill="#18737d"/>
<line x1="760.5" y1="404.3" x2="760.5" y2="418.5" stroke="#8c8c8c" stroke-width="0.9"/>
<rect x="758.79" y="411.4" width="3.0" height="3" fill="#a8343f"/>
<line x1="764.5" y1="412" x2="764.5" y2="421.5" stroke="#8c8c8c" stroke-width="0.9"/>
<rect x="762.55" y="414.8" width="3.0" height="5.7" fill="#a8343f"/>
<line x1="767.5" y1="412.4" x2="767.5" y2="443.2" stroke="#8c8c8c" stroke-width="0.9"/>
<rect x="766.3" y="420.5" width="3.0" height="11.1" fill="#a8343f"/>
<line x1="771.5" y1="426.6" x2="771.5" y2="451.9" stroke="#8c8c8c" stroke-width="0.9"/>
<rect x="770.05" y="432.2" width="3.0" height="13.6" fill="#a8343f"/>
<line x1="775.5" y1="436.7" x2="775.5" y2="472.7" stroke="#8c8c8c" stroke-width="0.9"/>
<rect x="773.8" y="439.1" width="3.0" height="6.7" fill="#18737d"/>
<line x1="779.5" y1="434.7" x2="779.5" y2="446.8" stroke="#8c8c8c" stroke-width="0.9"/>
<rect x="777.56" y="438.7" width="3.0" height="1.6" fill="#18737d"/>
<line x1="782.5" y1="431.6" x2="782.5" y2="438.7" stroke="#8c8c8c" stroke-width="0.9"/>
<rect x="781.31" y="433.6" width="3.0" height="2.1" fill="#18737d"/>
<line x1="786.5" y1="435.7" x2="786.5" y2="448" stroke="#8c8c8c" stroke-width="0.9"/>
<rect x="785.06" y="437.1" width="3.0" height="10.1" fill="#a8343f"/>
<line x1="790.5" y1="439.7" x2="790.5" y2="455.3" stroke="#8c8c8c" stroke-width="0.9"/>
<rect x="788.82" y="447.2" width="3.0" height="2.6" fill="#a8343f"/>
<line x1="794.5" y1="437.7" x2="794.5" y2="468.1" stroke="#8c8c8c" stroke-width="0.9"/>
<rect x="792.57" y="442.3" width="3.0" height="7.5" fill="#18737d"/>
<line x1="797.5" y1="422.5" x2="797.5" y2="448.8" stroke="#8c8c8c" stroke-width="0.9"/>
<rect x="796.32" y="437.1" width="3.0" height="4.6" fill="#18737d"/>
<line x1="801.5" y1="437" x2="801.5" y2="441" stroke="#8c8c8c" stroke-width="0.9"/>
<rect x="800.08" y="438" width="3.0" height="2.6" fill="#a8343f"/>
<rect x="253" y="332" width="371.7" height="8" fill="rgba(60,165,180,0.58)"/>
<rect x="579" y="353.5" width="157.6" height="5" fill="rgba(60,165,180,0.58)"/>
<rect x="567" y="419.2" width="237.8" height="8" fill="rgba(60,165,180,0.58)"/>
<rect x="298" y="455" width="541.6" height="5.3" fill="rgba(60,165,180,0.58)"/>
<line x1="17" y1="49.3" x2="834.5" y2="417.1" stroke="#26929b" stroke-width="3.8" stroke-linecap="round"/>
<line x1="-4.47" y1="439.5" x2="877" y2="439.5" stroke="#8c8c96" stroke-width="0.9" stroke-dasharray="2.7,3.43"/>
<path d="M538.1,199.4 C539.07,198.83 541.75,196.93 543.9,196 C546.05,195.07 548.48,194.27 551,193.8 C553.52,193.33 556.32,193.15 559,193.2 C561.68,193.25 564.42,193.55 567.1,194.1 C569.78,194.65 572.28,195.43 575.1,196.5 C577.92,197.57 581.03,198.87 584,200.5 C586.97,202.13 590.08,204.45 592.9,206.3 C595.72,208.15 598.88,210.2 600.9,211.6 C602.92,213 602.9,213.03 605,214.7 C607.1,216.37 610.52,219.05 613.5,221.6 C616.48,224.15 621.33,228.6 622.9,230 L630.3,222.1 L641.8,258.9 L609.7,246.3 L615.5,238.9 C614.58,237.8 611.75,234.33 610,232.3 C608.25,230.27 607.12,228.58 605,226.7 C602.88,224.82 600.07,223 597.3,221 C594.53,219 591.37,216.63 588.4,214.7 C585.43,212.77 582.47,210.95 579.5,209.4 C576.53,207.85 573.57,206.6 570.6,205.4 C567.63,204.2 564.67,203.05 561.7,202.2 C558.73,201.35 555.77,200.73 552.8,200.3 C549.83,199.87 546.35,199.75 543.9,199.6 C541.45,199.45 539.07,199.43 538.1,199.4 Z" fill="#e00a0a" stroke="#3a1616" stroke-width="1.1" stroke-linejoin="round"/>
<line x1="878" y1="43" x2="878" y2="479.5" stroke="#b4b4b4" stroke-width="1.6"/>
<line x1="0" y1="479.5" x2="878.8" y2="479.5" stroke="#ababab" stroke-width="1"/>
<line x1="878" y1="63.6" x2="880.5" y2="63.6" stroke="#999" stroke-width="0.8"/>
<text x="881.8" y="65" class="pl">1.36</text>
<line x1="878" y1="130" x2="880.5" y2="130" stroke="#999" stroke-width="0.8"/>
<text x="881.8" y="131.4" class="pl">1.35</text>
<line x1="878" y1="196.4" x2="880.5" y2="196.4" stroke="#999" stroke-width="0.8"/>
<text x="881.8" y="197.8" class="pl">1.34</text>
<line x1="878" y1="262.8" x2="880.5" y2="262.8" stroke="#999" stroke-width="0.8"/>
<text x="881.8" y="264.2" class="pl">1.33</text>
<line x1="878" y1="329.2" x2="880.5" y2="329.2" stroke="#999" stroke-width="0.8"/>
<text x="881.8" y="330.6" class="pl">1.32</text>
<line x1="878" y1="395.6" x2="880.5" y2="395.6" stroke="#999" stroke-width="0.8"/>
<text x="881.8" y="397" class="pl">1.31</text>
<line x1="878" y1="462" x2="880.5" y2="462" stroke="#999" stroke-width="0.8"/>
<text x="881.8" y="463.4" class="pl">1.3</text>
<line x1="-2.1" y1="479.5" x2="-2.1" y2="482.2" stroke="#999" stroke-width="0.8"/>
<text x="-2.1" y="489" class="dl" text-anchor="middle">22</text>
<line x1="39.6" y1="479.5" x2="39.6" y2="482.2" stroke="#999" stroke-width="0.8"/>
<text x="39.6" y="489" class="dl" text-anchor="middle">24</text>
<line x1="109.4" y1="479.5" x2="109.4" y2="482.2" stroke="#999" stroke-width="0.8"/>
<text x="109.4" y="489" class="dl" text-anchor="middle">Mar</text>
<line x1="178.5" y1="479.5" x2="178.5" y2="482.2" stroke="#999" stroke-width="0.8"/>
<text x="178.5" y="489" class="dl" text-anchor="middle">4</text>
<line x1="227.8" y1="479.5" x2="227.8" y2="482.2" stroke="#999" stroke-width="0.8"/>
<text x="227.8" y="489" class="dl" text-anchor="middle">8</text>
<line x1="272.5" y1="479.5" x2="272.5" y2="482.2" stroke="#999" stroke-width="0.8"/>
<text x="272.5" y="489" class="dl" text-anchor="middle">10</text>
<line x1="312.3" y1="479.5" x2="312.3" y2="482.2" stroke="#999" stroke-width="0.8"/>
<text x="312.3" y="489" class="dl" text-anchor="middle">12</text>
<line x1="366.4" y1="479.5" x2="366.4" y2="482.2" stroke="#999" stroke-width="0.8"/>
<text x="366.4" y="489" class="dl" text-anchor="middle">16</text>
<line x1="411.2" y1="479.5" x2="411.2" y2="482.2" stroke="#999" stroke-width="0.8"/>
<text x="411.2" y="489" class="dl" text-anchor="middle">18</text>
<line x1="464" y1="479.5" x2="464" y2="482.2" stroke="#999" stroke-width="0.8"/>
<text x="464" y="489" class="dl" text-anchor="middle">22</text>
<line x1="508.8" y1="479.5" x2="508.8" y2="482.2" stroke="#999" stroke-width="0.8"/>
<text x="508.8" y="489" class="dl" text-anchor="middle">24</text>
<line x1="548.5" y1="479.5" x2="548.5" y2="482.2" stroke="#999" stroke-width="0.8"/>
<text x="548.5" y="489" class="dl" text-anchor="middle">26</text>
<line x1="603" y1="479.5" x2="603" y2="482.2" stroke="#999" stroke-width="0.8"/>
<text x="603" y="489" class="dl" text-anchor="middle">30</text>
<line x1="646.6" y1="479.5" x2="646.6" y2="482.2" stroke="#999" stroke-width="0.8"/>
<text x="646.6" y="489" class="dl" text-anchor="middle">Apr</text>
<line x1="719.3" y1="479.5" x2="719.3" y2="482.2" stroke="#999" stroke-width="0.8"/>
<text x="719.3" y="489" class="dl" text-anchor="middle">6</text>
<line x1="764" y1="479.5" x2="764" y2="482.2" stroke="#999" stroke-width="0.8"/>
<text x="764" y="489" class="dl" text-anchor="middle">8</text>
<line x1="809" y1="479.5" x2="809" y2="482.2" stroke="#999" stroke-width="0.8"/>
<text x="809" y="489" class="dl" text-anchor="middle">12</text>
<line x1="854.3" y1="479.5" x2="854.3" y2="482.2" stroke="#999" stroke-width="0.8"/>
<text x="854.3" y="489" class="dl" text-anchor="middle">14</text>
<path d="M879,351 L883,346.5 L910.3,346.5 Q911,346.5 911,347.3 L911,354.7 Q911,355.5 910.3,355.5 L883,355.5 Z" fill="#e8463f"/><text x="908" y="353.1" class="tg" text-anchor="end" fill="#3a1010">1.31667</text>
<path d="M879,402 L883,398 L910.3,398 Q911,398 911,398.8 L911,405.2 Q911,406 910.3,406 L883,406 Z" fill="#3cc046"/><text x="908" y="404.1" class="tg" text-anchor="end" fill="#0f3a12">1.30883</text>
<path d="M879,439.5 L883,435 L910.3,435 Q911,435 911,435.8 L911,443.2 Q911,444 910.3,444 L883,444 Z" fill="#5c59a5"/><text x="908" y="441.6" class="tg" text-anchor="end" fill="#ffffff">1.30328</text>
<path d="M802.6,437.3 L804.6,438.9 L802.6,440.5 Z" fill="#a8343f"/>
<rect x="4.9" y="436" width="66.6" height="8.5" fill="#fff"/>
<text x="5.6" y="445" class="lg" fill="#333">MA</text>
<text x="17.7" y="445" class="lg" fill="#8fc0d6">20</text>
<text x="26.9" y="445" class="lg" fill="#86cf86">50</text>
<text x="35.8" y="445" class="lg" fill="#e79a97">200</text>
<path d="M56.5,442.5 L55.31,443.46 L55.47,444.97 L53.96,444.81 L53,446 L52.04,444.81 L50.53,444.97 L50.69,443.46 L49.5,442.5 L50.69,441.54 L50.53,440.03 L52.04,440.19 L53,439 L53.96,440.19 L55.47,440.03 L55.31,441.54 Z" fill="#8a8a8a"/>
<circle cx="53" cy="442.5" r="1.1" fill="#fff"/>
<path d="M61.2,440.6 L65.4,444.8 M65.4,440.6 L61.2,444.8" stroke="#8a8a8a" stroke-width="1.3"/>
</svg>
<div id="hdr">
<div id="logo"><svg width="14" height="13" viewBox="0 0 14 13"><polyline points="2.4,10.3 4.8,4.9 7.6,6.8 11.5,3.1" fill="none" stroke="#2a6f6b" stroke-width="1.35" stroke-linejoin="round"/></svg></div>
<div id="search"><span>SPOT, GBP/USD</span>
<svg width="10" height="10" viewBox="0 0 10 10" style="left:76.5px;top:1.8px"><circle cx="4" cy="4" r="2.8" fill="none" stroke="#ddd" stroke-width="1"/><line x1="6" y1="6" x2="8.6" y2="8.6" stroke="#ddd" stroke-width="1.3"/></svg></div>
<svg width="40" height="19" viewBox="0 0 40 19" style="left:870px;top:0">
<line x1="1.3" y1="12.3" x2="8.8" y2="12.3" stroke="#cfcfcf" stroke-width="1"/>
<rect x="14.8" y="7.3" width="4.8" height="4.9" fill="none" stroke="#d4d4d4" stroke-width="1.3"/>
<path d="M17.2,9.7 h3.2 M17.2,9.7 v1.6" fill="none" stroke="#d4d4d4" stroke-width="0.9"/>
<path d="M20.2,8.6 L22.6,9.7 L20.2,10.8 Z" fill="#d4d4d4"/>
<path d="M21.9,3.6 L22.4,4.8 L23.6,5.3 L22.4,5.8 L21.9,7 L21.4,5.8 L20.2,5.3 L21.4,4.8 Z" fill="#d4d4d4"/>
<path d="M28.5,4 L37.3,12.8 M37.3,4 L28.5,12.8" stroke="#cfcfcf" stroke-width="0.9"/>
</svg>
</div>
<div id="tb">
<div class="mi" style="left:6.8px">4 hours</div>
<div class="mi" style="left:54.7px">Technical</div>
<div class="mi" style="left:110px">Display</div>
<div class="mi" style="left:157.8px">More</div>
<svg width="80" height="23" viewBox="0 0 80 23" style="left:195px;top:-1px">
<path d="M2.6,15.4 V9.1 Q2.6,8.6 3.1,8.6 H4.6 L5.4,9.4 H8.6 Q9.1,9.4 9.1,9.9 V11.6" fill="none" stroke="#2b2b2b" stroke-width="1"/>
<path d="M4.1,12 H11.4 L9.6,15.7 H2.4 Z" fill="#262626"/>
<rect x="21.9" y="9" width="7.4" height="7.1" rx="1" fill="none" stroke="#262626" stroke-width="1.4"/>
<rect x="22.5" y="9.3" width="6.2" height="1.9" fill="#262626"/>
<rect x="25.8" y="9.4" width="1.1" height="0.9" fill="#fff"/>
<line x1="39.1" y1="12.5" x2="47" y2="12.5" stroke="#1f1f1f" stroke-width="1.9"/>
<line x1="56.2" y1="12.5" x2="64.1" y2="12.5" stroke="#1f1f1f" stroke-width="1.9"/>
<line x1="60.15" y1="8.8" x2="60.15" y2="16.3" stroke="#1f1f1f" stroke-width="1.9"/>
</svg>
<svg width="200" height="23" viewBox="0 0 200 23" style="left:0;top:-1px">
<path d="M38.5,11.5 H43.9 L41.2,14.4 Z M94,11.5 H99.4 L96.7,14.4 Z M141.7,11.5 H147.1 L144.4,14.4 Z M180.6,11.5 H186 L183.3,14.4 Z" fill="#4a4a4a"/>
</svg>
<div id="cp">CURRENT PRICE:</div>
<div class="pbox" style="left:802px;background:#c92c3b;"><span style="left:8.2px">1.3032<small>3</small></span>
<svg width="6" height="6" viewBox="0 0 6 6" style="left:4.2px;top:0.4px"><path d="M1,0.5 L4.2,0.8 L2,4.6 Z" fill="#7d0f18"/></svg></div>
<div class="pbox" style="left:860px;background:#1e97a1;"><span style="left:8.6px">1.3033<small>3</small></span>
<svg width="6" height="6" viewBox="0 0 6 6" style="left:43.5px;top:1px"><circle cx="3" cy="3" r="2" fill="#0e5257"/></svg></div>
</div>

</body></html>
